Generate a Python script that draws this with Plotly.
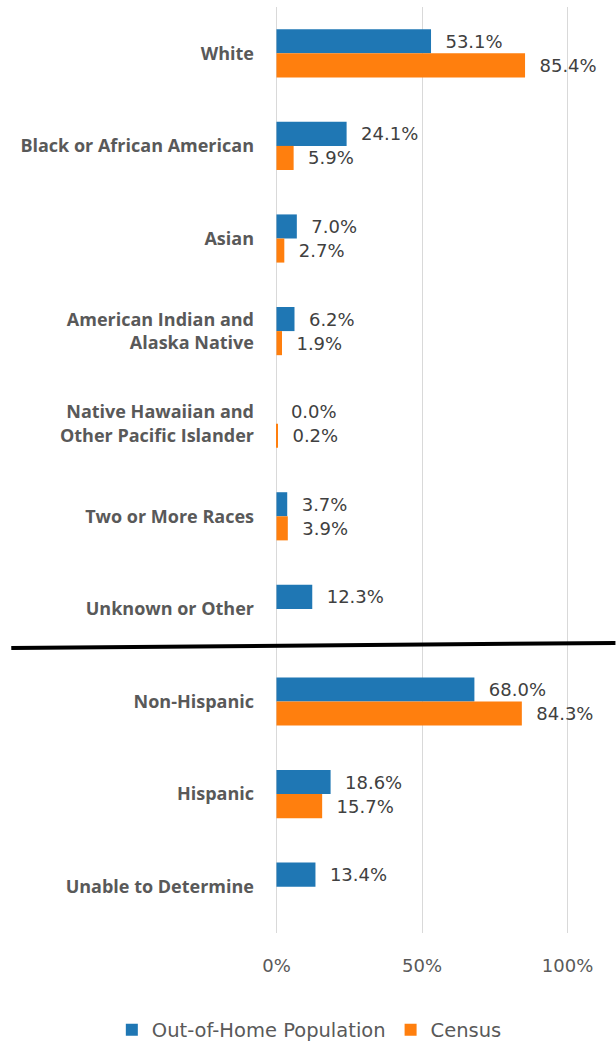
import plotly.graph_objects as go

categories = [
    "White",
    "Black or African American",
    "Asian",
    "American Indian and<br>Alaska Native",
    "Native Hawaiian and<br>Other Pacific Islander",
    "Two or More Races",
    "Unknown or Other",
    "Non-Hispanic",
    "Hispanic",
    "Unable to Determine",
]
out_of_home = [53.1, 24.1, 7.0, 6.2, 0.0, 3.7, 12.3, 68.0, 18.6, 13.4]
census = [85.4, 5.9, 2.7, 1.9, 0.2, 3.9, None, 84.3, 15.7, None]

tick_vals = [0, 50, 100]
tick_text = ["0%", "50%", "100%"]

BLUE = "#1f77b4"
ORANGE = "#ff7f0e"
FONT = "Open Sans"
NUMFONT = "DejaVu Sans"

def labels(vals):
    return ["" if v is None else f"  {v:.1f}%" for v in vals]

fig = go.Figure()
fig.add_trace(go.Bar(
    y=categories, x=out_of_home, orientation="h", name="Out-of-Home Population",
    marker=dict(color=BLUE, line=dict(width=0)),
    text=labels(out_of_home), textposition="outside", cliponaxis=False,
    textfont=dict(size=18, color="#404040", family=NUMFONT),
))
fig.add_trace(go.Bar(
    y=categories, x=census, orientation="h", name="Census",
    marker=dict(color=ORANGE, line=dict(width=0)),
    text=labels(census), textposition="outside", cliponaxis=False,
    textfont=dict(size=18, color="#404040", family=NUMFONT),
))

fig.update_layout(
    width=616, height=1042,
    margin=dict(l=274.5, r=46.6, t=7, b=109, autoexpand=False),
    barmode="group", bargap=0.48, bargroupgap=0,
    plot_bgcolor="white", paper_bgcolor="white",
    font=dict(family=NUMFONT, color="#595959", size=18),
    legend=dict(
        orientation="h", xref="paper", yref="paper",
        x=-0.555, xanchor="left", y=-0.1048, yanchor="middle",
        font=dict(size=19.5, color="#595959", family=NUMFONT),
        itemwidth=30, traceorder="normal",
    ),
    showlegend=True,
)
fig.update_xaxes(
    range=[-0.5, 100.5], tickvals=tick_vals, ticktext=tick_text,
    showgrid=True, gridcolor="#d9d9d9", gridwidth=1,
    zeroline=False, showline=False, ticks="", automargin=False,
    ticklabelstandoff=20,
    tickfont=dict(size=18, color="#595959", family=NUMFONT),
)
fig.update_yaxes(
    categoryorder="array", categoryarray=categories, autorange="reversed",
    showgrid=False, zeroline=False, showline=False, ticks="", automargin=False,
    ticklabelstandoff=20,
    tickfont=dict(size=18, color="#595959", family=FONT, weight="bold"),
)
fig.add_shape(
    type="line", xref="paper", yref="paper",
    x0=-0.897, y0=0.3078, x1=1.158, y1=0.3132,
    line=dict(color="black", width=4),
)
fig.write_html(
    "out.html",
    config={"displayModeBar": False},
    post_script="document.body.style.margin='0';document.body.style.overflow='hidden';",
)
